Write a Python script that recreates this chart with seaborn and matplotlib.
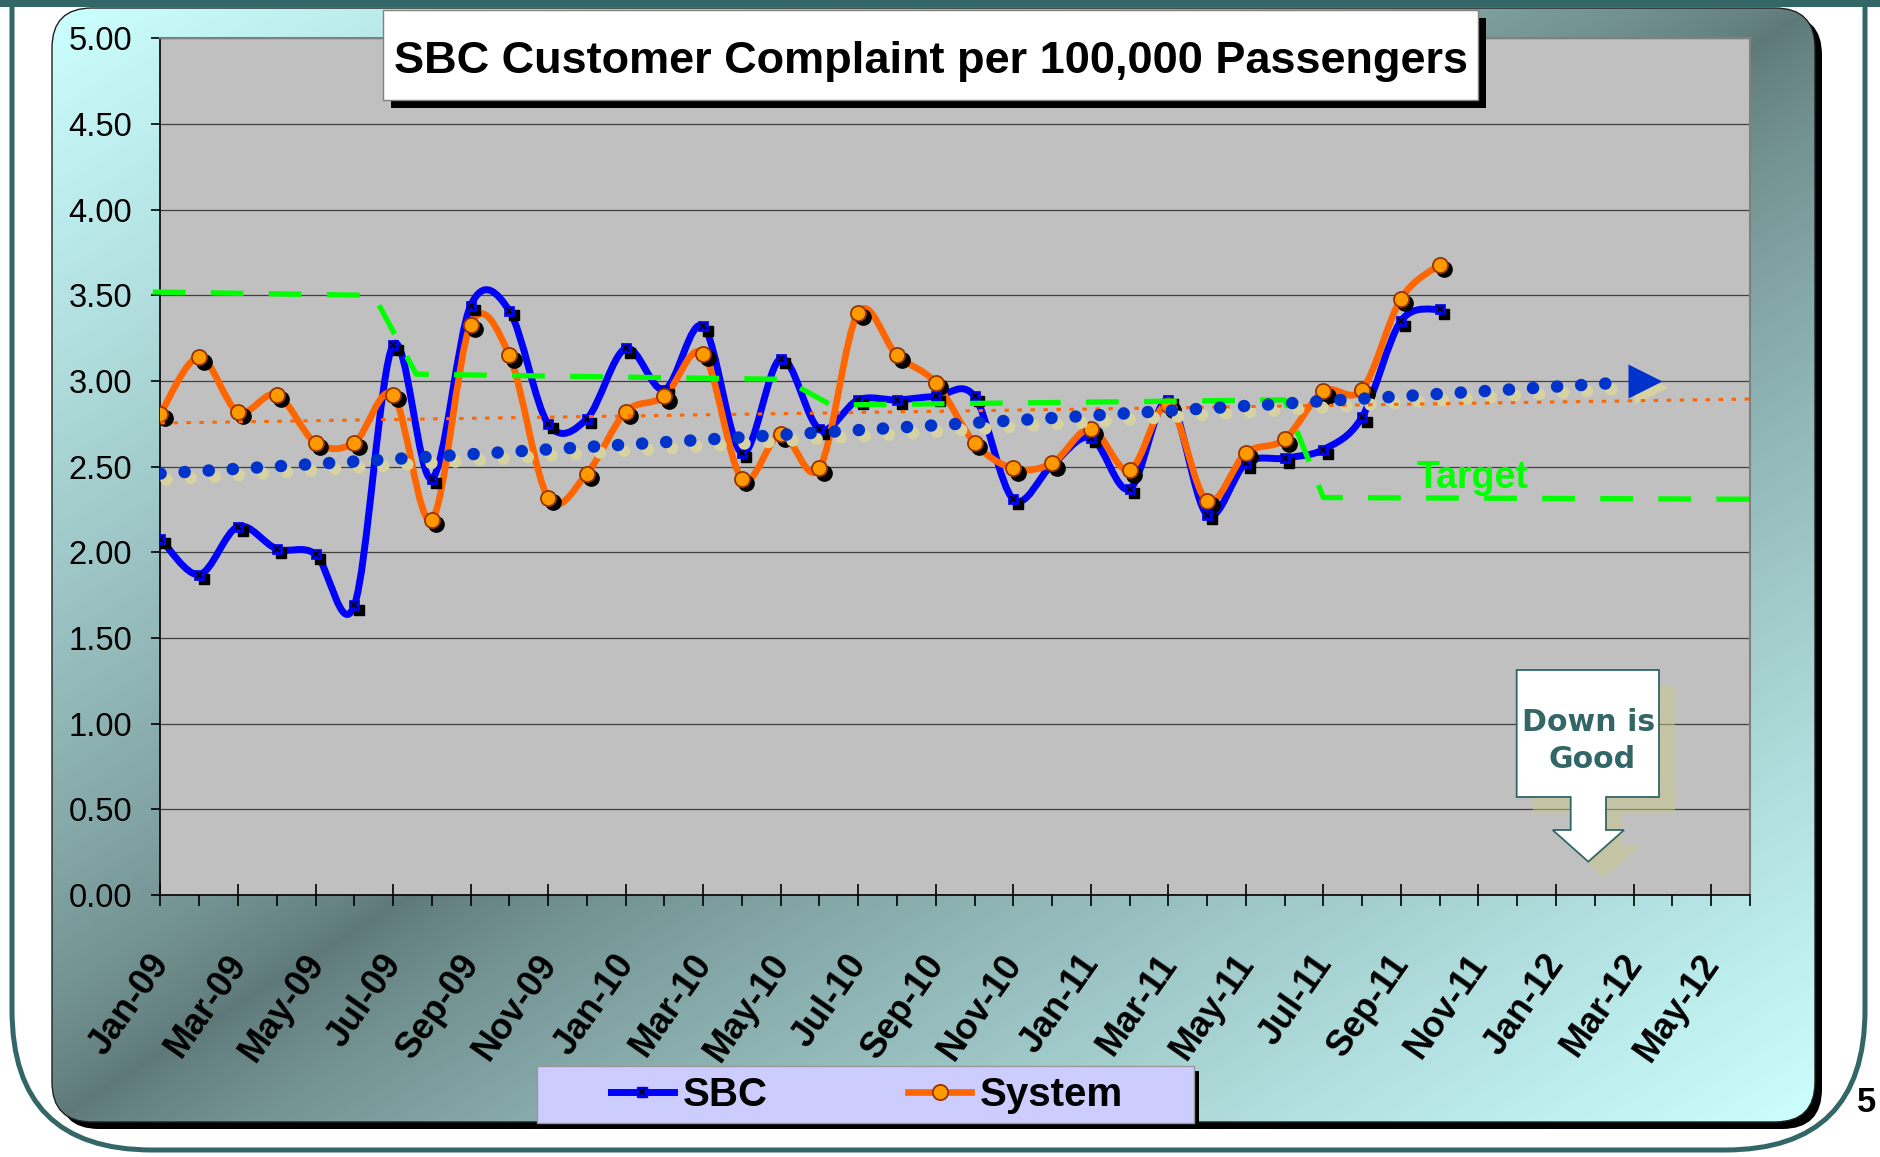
import numpy as np
import matplotlib
matplotlib.use("Agg")
import matplotlib.pyplot as plt
import seaborn as sns
from matplotlib.path import Path
from matplotlib.patches import PathPatch, FancyBboxPatch, Rectangle, Polygon
from matplotlib import transforms
from matplotlib.lines import Line2D
from matplotlib.legend_handler import HandlerTuple
from matplotlib.font_manager import FontProperties

# ---------------- data ----------------
months = ['Jan-09', 'Feb-09', 'Mar-09', 'Apr-09', 'May-09', 'Jun-09', 'Jul-09', 'Aug-09',
          'Sep-09', 'Oct-09', 'Nov-09', 'Dec-09', 'Jan-10', 'Feb-10', 'Mar-10', 'Apr-10',
          'May-10', 'Jun-10', 'Jul-10', 'Aug-10', 'Sep-10', 'Oct-10', 'Nov-10', 'Dec-10',
          'Jan-11', 'Feb-11', 'Mar-11', 'Apr-11', 'May-11', 'Jun-11', 'Jul-11', 'Aug-11',
          'Sep-11', 'Oct-11', 'Nov-11', 'Dec-11', 'Jan-12', 'Feb-12', 'Mar-12', 'Apr-12',
          'May-12', 'Jun-12']

sbc = [2.08, 1.87, 2.15, 2.02, 1.99, 1.69, 3.21, 2.43, 3.44, 3.41, 2.75, 2.78,
       3.19, 2.95, 3.32, 2.58, 3.13, 2.72, 2.89, 2.89, 2.91, 2.91, 2.31, 2.51,
       2.67, 2.37, 2.89, 2.22, 2.52, 2.55, 2.60, 2.79, 3.35, 3.42]

system = [2.81, 3.14, 2.82, 2.92, 2.64, 2.64, 2.92, 2.19, 3.33, 3.15, 2.32, 2.46,
          2.82, 2.91, 3.16, 2.43, 2.69, 2.49, 3.40, 3.15, 2.99, 2.64, 2.49, 2.52,
          2.72, 2.48, 2.86, 2.30, 2.58, 2.66, 2.94, 2.95, 3.48, 3.68]

# target line break points (x in months since Jan-09)
target_month = [-0.2, 5.5, 6.6, 16.1, 17.3, 29.0, 30.0, 41.0]
target_value = [3.52, 3.50, 3.04, 3.01, 2.86, 2.89, 2.32, 2.31]

# trend lines
sbc_trend_month = [0.0, 37.6]
sbc_trend_value = [2.46, 2.99]
sbc_arrow_month = [38.3]
sbc_arrow_value = [3.00]
system_trend_month = [0.0, 41.0]
system_trend_value = [2.755, 2.895]

yticks = [0.0, 0.5, 1.0, 1.5, 2.0, 2.5, 3.0, 3.5, 4.0, 4.5, 5.0]

title = "SBC Customer Complaint per 100,000 Passengers"

# ---------------- style ----------------
plt.rcParams['font.family'] = ['Liberation Sans', 'DejaVu Sans']

W, H = 1881, 1157
fig = plt.figure(figsize=(W / 100, H / 100), dpi=100)
fig.patch.set_facecolor('white')

TEAL = '#336666'

# ---------------- background (pixel coordinates, y down) ----------------
bg = fig.add_axes([0, 0, 1, 1], zorder=0)
bg.set_xlim(0, W)
bg.set_ylim(H, 0)
bg.axis('off')

frame = FancyBboxPatch((12, -300), 1853, 1450, boxstyle='round,pad=0,rounding_size=140',
                       facecolor='white', edgecolor=TEAL, lw=3.6)
bg.add_patch(frame)
bg.add_patch(Rectangle((0, 0), W, 7, facecolor=TEAL, edgecolor='none'))

cx0, cy0, cw, ch = 52, 8, 1763, 1114
bg.add_patch(FancyBboxPatch((cx0 + 7, cy0 + 7), cw, ch, boxstyle='round,pad=0,rounding_size=40',
                            facecolor='black', edgecolor='none'))
area = FancyBboxPatch((cx0, cy0), cw, ch, boxstyle='round,pad=0,rounding_size=40',
                      facecolor='none', edgecolor='#202020', lw=1.0)
bg.add_patch(area)
gx = np.linspace(0, 1, 400)
gy = np.linspace(0, 1, 300)
GX, GY = np.meshgrid(gx, gy)
t = np.abs(GX + GY - 1.0) ** 0.75
light = np.array([204, 255, 255]) / 255
dark = np.array([94, 120, 120]) / 255
img = dark[None, None, :] + (light - dark)[None, None, :] * t[:, :, None]
im = bg.imshow(img, extent=(cx0, cx0 + cw, cy0 + ch, cy0), origin='upper',
               aspect='auto', interpolation='bilinear', zorder=1)
im.set_clip_path(area)
area.set_zorder(2)

# legend box (drawn under the legend entries)
bg.add_patch(Rectangle((542, 1071), 657, 56, facecolor='black', edgecolor='none', zorder=3))
bg.add_patch(Rectangle((536.6, 1066), 657, 57, facecolor='#CCCCFF', edgecolor='#999999',
                       lw=1, zorder=4))

# ---------------- main chart ----------------
left, right = 160.5, 1749.8
top, bottom = 38.4, 895.0
ax = fig.add_axes([left / W, (H - bottom) / H, (right - left) / W, (bottom - top) / H], zorder=1)
ax.set_facecolor('#C0C0C0')

x_idx = np.arange(len(months))
xs_data = x_idx[:len(sbc)]


def excel_smooth(xs, ys):
    P = np.column_stack([xs, ys]).astype(float)
    n = len(P)
    verts = [P[0]]
    codes = [Path.MOVETO]
    for i in range(n - 1):
        p0 = P[i - 1] if i > 0 else P[i]
        p1, p2 = P[i], P[i + 1]
        p3 = P[i + 2] if i + 2 < n else P[i + 1]
        verts += [p1 + (p2 - p0) / 6, p2 - (p3 - p1) / 6, p2]
        codes += [Path.CURVE4] * 3
    return Path(verts, codes)


BLUE = '#0000FF'
ORANGE = '#FF6600'
ax.add_patch(PathPatch(excel_smooth(xs_data, sbc), fill=False, edgecolor=BLUE, lw=5.0,
                       capstyle='round', joinstyle='round', zorder=2))
ax.add_patch(PathPatch(excel_smooth(xs_data, system), fill=False, edgecolor=ORANGE, lw=4.8,
                       capstyle='round', joinstyle='round', zorder=2.1))

shadow = transforms.offset_copy(ax.transData, fig=fig, x=4.5, y=-4.5, units='dots')
ax.plot(xs_data, sbc, ls='none', marker='s', ms=7.6, mfc='black', mec='black',
        transform=shadow, zorder=2.5)
ax.plot(xs_data, system, ls='none', marker='o', ms=11, mfc='black', mec='black',
        transform=shadow, zorder=2.5)

sns.scatterplot(x=xs_data, y=sbc, marker='s', s=56, color=BLUE, edgecolor=BLUE,
                linewidth=0.5, ax=ax, zorder=3, legend=False)
ax.plot(xs_data, sbc, ls='none', marker='x', ms=3.8, mec='black', mew=1.3, zorder=3.1)
sns.scatterplot(x=xs_data, y=system, marker='o', s=118, color='#FF9900', edgecolor='#993300',
                linewidth=1.3, ax=ax, zorder=3.2, legend=False)

# target
sns.lineplot(x=target_month, y=target_value, ax=ax, color='#00FF00', lw=3.8,
             linestyle=(0, (6.2, 4.8)), zorder=4, clip_on=False, legend=False,
             estimator=None, sort=False)

# trend lines
trend_shadow = transforms.offset_copy(ax.transData, fig=fig, x=6, y=-6, units='dots')
ax.plot(sbc_trend_month, sbc_trend_value, color='#D6D2A2', lw=9.0,
        linestyle=(0, (0.01, 1.92)), dash_capstyle='round', transform=trend_shadow, zorder=4.4)
ax.plot(sbc_arrow_month, sbc_arrow_value, ls='none', marker='>', ms=24.5, mfc='#D6D2A2',
        mec='none', transform=trend_shadow, zorder=4.4)
sns.lineplot(x=system_trend_month, y=system_trend_value, ax=ax, color=ORANGE, lw=2.2,
             linestyle=(0, (1.45, 2.8)), zorder=4.6, legend=False, estimator=None)
sns.lineplot(x=sbc_trend_month, y=sbc_trend_value, ax=ax, color='#0033CC', lw=9.0,
             linestyle=(0, (0.01, 1.92)), dash_capstyle='round', zorder=4.8, legend=False,
             estimator=None)
ax.plot(sbc_arrow_month, sbc_arrow_value, ls='none', marker='>', ms=24.5, mfc='#0033CC',
        mec='none', zorder=4.8)

ax.text(33.86, 2.376, 'Target', color='#00FF00', fontsize=27, fontweight='bold',
        ha='center', va='baseline', zorder=6)

# axes formatting
ax.set_xlim(0, 41)
ax.set_ylim(0, 5)
ax.set_xlabel('')
ax.set_ylabel('')
ax.set_yticks(yticks)
ax.set_yticklabels([f'{v:.2f}' for v in yticks])
ax.set_xticks(x_idx[::2])
ax.set_xticklabels(months[::2], rotation=55, ha='right', va='top', fontweight='bold', fontsize=26)
ax.set_xticks(x_idx[1::2], minor=True)
ax.tick_params(axis='x', which='major', direction='inout', length=16, width=1.2,
               color='black', pad=30)
ax.tick_params(axis='x', which='minor', direction='out', length=8, width=1.2, color='black')
ax.tick_params(axis='y', which='major', direction='out', length=6.5, width=1.2,
               color='black', pad=14, labelsize=23.5)
offset = transforms.ScaledTranslation(16 / 100, 0, fig.dpi_scale_trans)
for lbl in ax.get_xticklabels():
    lbl.set_transform(lbl.get_transform() + offset)

ax.yaxis.grid(True, color='#404040', lw=0.9)
ax.xaxis.grid(False)
ax.set_axisbelow(True)
for s in ['left', 'bottom']:
    ax.spines[s].set_color('black')
    ax.spines[s].set_linewidth(1.2)
for s in ['top', 'right']:
    ax.spines[s].set_color('#808080')
    ax.spines[s].set_linewidth(1.5)

# legend
sbc_handle = (Line2D([], [], color=BLUE, lw=5.0),
              Line2D([], [], ls='none', marker='s', ms=7.6, mfc=BLUE, mec=BLUE),
              Line2D([], [], ls='none', marker='x', ms=3.8, mec='black', mew=1.3))
sys_handle = (Line2D([], [], color=ORANGE, lw=4.8),
              Line2D([], [], ls='none', marker='o', ms=11, mfc='#FF9900', mec='#993300', mew=1.3))
ax.legend([sbc_handle, sys_handle], ['SBC', 'System'],
          handler_map={tuple: HandlerTuple(ndivide=1)}, ncol=2, loc='center',
          bbox_to_anchor=(867 / W, (H - 1095) / H), bbox_transform=fig.transFigure,
          frameon=False, prop=FontProperties(family='Liberation Sans', weight='bold', size=29),
          handlelength=1.56, handletextpad=0.22, columnspacing=3.5, borderpad=0)

# ---------------- overlay (pixel coordinates, y down) ----------------
ov = fig.add_axes([0, 0, 1, 1], zorder=5)
ov.set_xlim(0, W)
ov.set_ylim(H, 0)
ov.axis('off')
ov.patch.set_alpha(0)

ov.add_patch(Rectangle((391, 18), 1095, 90, facecolor='black', edgecolor='none'))
ov.add_patch(Rectangle((383, 10), 1095, 90, facecolor='white', edgecolor='#808080', lw=1))
ov.text(931, 73.5, title, ha='center', va='baseline', fontsize=32.5, fontweight='bold',
        color='black')

callout = [(1516.7, 670), (1659, 670), (1659, 797), (1606, 797), (1606, 830), (1624, 830),
           (1588.3, 861.7), (1552.7, 830), (1570.7, 830), (1570.7, 797), (1516.7, 797)]
ov.add_patch(Polygon([(x + 16, y + 16) for x, y in callout], closed=True,
                     facecolor=(200 / 255, 200 / 255, 140 / 255, 0.5), edgecolor='none'))
ov.add_patch(Polygon(callout, closed=True, facecolor='white', edgecolor=TEAL, lw=1.3))
ov.text(1589, 730.7, 'Down is', ha='center', va='baseline', fontsize=21.6, fontweight='bold',
        color=TEAL, family=['DejaVu Sans'])
ov.text(1592, 768.3, 'Good', ha='center', va='baseline', fontsize=21.6, fontweight='bold',
        color=TEAL, family=['DejaVu Sans'])
ov.text(1867, 1112, '5', ha='center', va='baseline', fontsize=25, fontweight='bold',
        color='black')

fig.savefig('out.png', dpi=100, facecolor='white')
